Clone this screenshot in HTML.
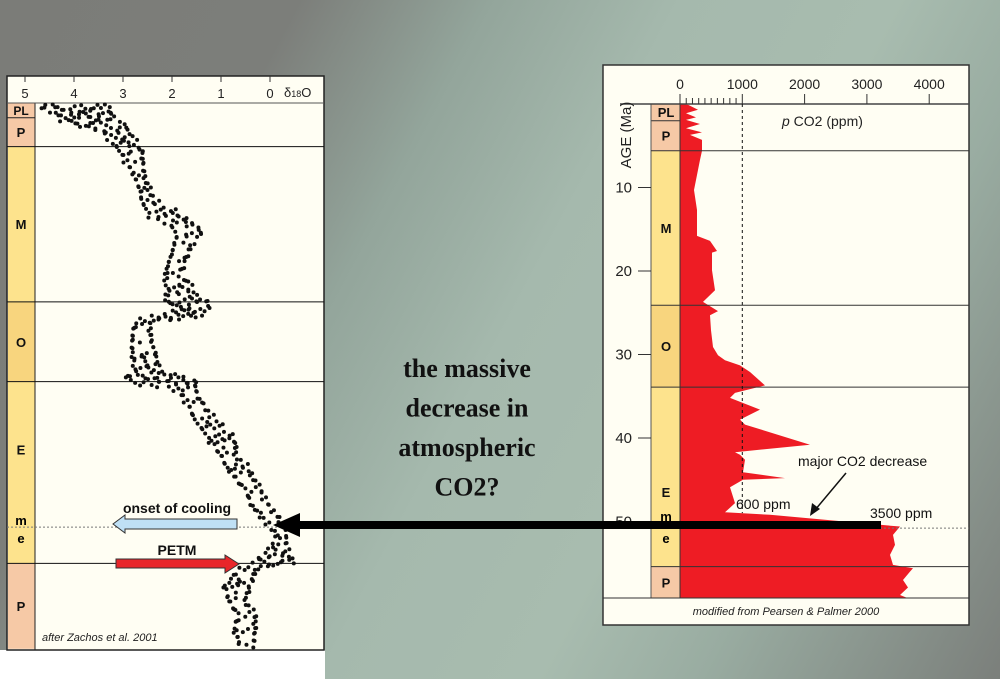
<!DOCTYPE html>
<html><head><meta charset="utf-8">
<style>
html,body{margin:0;padding:0;}
body{width:1000px;height:679px;overflow:hidden;background:linear-gradient(118deg,#7b7c78 0%,#7c7e7a 22%,#93a59b 36%,#a5b9ad 50%,#a8bcaf 66%,#99aca1 78%,#7b7f7b 100%);font-family:"Liberation Sans",sans-serif;}
svg{position:absolute;left:0;top:0;}
</style></head>
<body>
<svg width="1000" height="679" viewBox="0 0 1000 679">
<g id="left"></g>
<g id="right"></g>
<g id="mid"></g>
</svg>
<script>
// ---- d18O data (age Ma, min and max d18O per level) ----
const o18Age = [0.5,1.5,2.7,3.9,5.1,6.9,8.8,10.6,11.8,13.6,14.8,16.1,17.3,19.1,20.9,22.7,24.0,25.2,26.2,27.0,28.8,30.7,32.5,33.7,34.7,36.1,38.6,41.0,42.8,44.6,47.1,49.5,51.3,52.6,53.8,55.0,55.8,56.8,58.6,60.5,62.3,64.1,65.9];
const o18Min = [3.27,3.27,2.96,2.86,2.65,2.59,2.55,2.45,2.35,1.84,1.43,1.43,1.63,1.73,1.84,1.53,1.33,1.22,1.63,2.45,2.45,2.35,2.24,1.53,1.53,1.43,1.12,0.71,0.71,0.41,0.20,0.00,-0.31,-0.31,-0.31,-0.41,-0.51,0.31,0.41,0.51,0.31,0.31,0.31];
const o18Max = [4.69,4.39,3.98,3.37,3.16,2.96,2.80,2.65,2.65,2.45,2.04,1.88,1.94,2.04,2.14,2.08,2.14,1.94,2.65,2.76,2.80,2.80,2.76,2.96,1.94,1.73,1.53,1.22,1.02,0.86,0.51,0.31,0.00,-0.16,-0.04,0.20,0.24,0.61,0.92,0.86,0.65,0.71,0.65];
const o18Ticks = [5,4,3,2,1,0];
// ---- CO2 data (age Ma, pCO2 ppm) ----
const co2Age = [0.1,0.7,1.1,1.6,1.9,2.4,2.9,3.4,3.7,4.3,5.6,6.7,9.1,10.3,12.7,15.8,16.4,17.6,17.8,19.9,22.3,23.7,24.8,25.3,27.1,29.1,30.1,30.7,31.3,32.1,33.7,34.6,35.2,36.6,37.8,38.4,40.8,41.7,42.0,42.6,44.1,44.8,45.0,45.9,47.8,48.9,49.2,50.4,50.6,51.6,52.8,54.0,55.2,55.6,56.0,57.0,57.9,58.8,59.2];
const co2Ppm = [128,289,96,257,96,321,96,353,161,353,353,321,257,225,273,273,482,594,514,514,562,369,610,482,498,530,610,722,963,1124,1364,883,803,1284,963,1043,2087,883,963,1043,1011,1685,1011,803,883,722,1445,3210,3531,3419,3451,3371,3419,3740,3692,3579,3660,3531,3660];
const co2Ticks = [0,1000,2000,3000,4000];
const ageTicks = [10,20,30,40,50];

const NS='http://www.w3.org/2000/svg';
function mk(parent,tag,attrs,text){const e=document.createElementNS(NS,tag);for(const k in attrs)e.setAttribute(k,attrs[k]);if(text!==undefined)e.textContent=text;parent.appendChild(e);return e;}

// ===== LEFT PANEL =====
const L=document.getElementById('left');
const lx=d=>270-d*49, ly=a=>103+a*8.22;
mk(L,'rect',{x:0,y:650,width:325,height:29,fill:'#ffffff'});
let r=mk(L,'rect',{x:7,y:76,width:317,height:574,fill:'#fffef3',stroke:'#222','stroke-width':1.5});

const lStrat=[[0,1.8,'#f6c9a6','PL'],[1.8,5.3,'#f6c9a6','P'],[5.3,24.2,'#fde38d','M'],[24.2,33.9,'#f8d57e','O'],[33.9,56.0,'#fde38d','E'],[56.0,66.4,'#f6c9a6','P']];
lStrat.forEach(s=>{const y0=ly(s[0]),y1=ly(s[1]);
 const b=mk(L,'rect',{x:8,y:y0,width:27,height:y1-y0,fill:s[2]});
 
 mk(L,'text',{x:21,y:s[3]=='PL'?y0+12:(y0+y1)/2+(s[3]=='E'?-18:5),'text-anchor':'middle','font-size':s[3]=='PL'?12:13,'font-weight':'bold',fill:'#111'},s[3]);
});
mk(L,'text',{x:21,y:525,'text-anchor':'middle','font-size':13,'font-weight':'bold'},'m');
mk(L,'text',{x:21,y:543,'text-anchor':'middle','font-size':13,'font-weight':'bold'},'e');
mk(L,'line',{x1:35,y1:103,x2:35,y2:650,stroke:'#222'});
mk(L,'line',{x1:7,y1:103,x2:324,y2:103,stroke:'#555'});
mk(L,'line',{x1:7,y1:ly(1.8),x2:35,y2:ly(1.8),stroke:'#222'});
[5.3,24.2,33.9,56.0].forEach(a=>mk(L,'line',{x1:7,y1:ly(a),x2:324,y2:ly(a),stroke:'#111'}));
mk(L,'line',{x1:7,y1:ly(51.6),x2:324,y2:ly(51.6),stroke:'#777','stroke-dasharray':'2,2'});
o18Ticks.forEach(t=>{mk(L,'line',{x1:lx(t),y1:76,x2:lx(t),y2:82,stroke:'#333'});
 const e=mk(L,'text',{x:lx(t),y:98,'text-anchor':'middle','font-size':13,fill:'#222'},String(t));
 });
let tt=mk(L,'text',{x:284,y:97,'font-size':13,fill:'#222'});tt.innerHTML='δ<tspan font-size="9">18</tspan>O';

const dots=mk(L,'g',{fill:'#111'});
const jy=[0,2.2,-1.8,1.1,-2.6,2.8,-0.9,1.7,-2.2];
const jx=[0,0.9,-0.7,1.4,-1.2,0.4,-0.3,1.1,-1.5];
let cnt=0;
function dotRow(a,lo,hi,n){for(let k=0;k<n;k++){const f=n==1?0.5:k/(n-1);const d=lo+(hi-lo)*f;
 const c=mk(dots,'circle',{cx:lx(d)+jx[cnt%9],cy:ly(a)+jy[(cnt*4)%9],r:2});cnt++;
 }}
for(let i=0;i<o18Age.length;i++){
 const w=Math.abs(o18Max[i]-o18Min[i]);const n=Math.max(3,Math.round(w*9));
 dotRow(o18Age[i],o18Min[i],o18Max[i],n);
 if(i<o18Age.length-1){
  const steps=Math.max(1,Math.round((o18Age[i+1]-o18Age[i])*2.6));
  for(let s=1;s<steps;s++){const f=s/steps;
   const a=o18Age[i]+(o18Age[i+1]-o18Age[i])*f;
   const lo=o18Min[i]+(o18Min[i+1]-o18Min[i])*f, hi=o18Max[i]+(o18Max[i+1]-o18Max[i])*f;
   dotRow(a,lo,hi,Math.max(2,Math.round(Math.abs(hi-lo)*6)));}
 }
}
// arrows
let a1=mk(L,'polygon',{points:'237,519 125,519 125,515 113,524 125,533 125,529 237,529',fill:'#bfe0f5',stroke:'#333','stroke-width':1});

mk(L,'text',{x:177,y:513,'text-anchor':'middle','font-size':14,'font-weight':'bold',fill:'#111'},'onset of cooling');
let a2=mk(L,'polygon',{points:'116,559 225,559 225,555 239,564 225,573 225,568 116,568',fill:'#e8262a',stroke:'#333','stroke-width':1});

mk(L,'text',{x:177,y:555,'text-anchor':'middle','font-size':14,'font-weight':'bold',fill:'#111'},'PETM');
mk(L,'text',{x:42,y:641,'font-size':11,'font-style':'italic',fill:'#222'},'after Zachos et al. 2001');

// ===== RIGHT PANEL =====
const R=document.getElementById('right');
const rx=p=>680+p*0.0623, ry=a=>104+a*8.35;
let rf=mk(R,'rect',{x:603,y:65,width:366,height:560,fill:'#fffef3',stroke:'#333','stroke-width':1.5});

const rStrat=[[0,2.0,'#f6c9a6','PL'],[2.0,5.6,'#f6c9a6','P'],[5.6,24.1,'#fde38d','M'],[24.1,33.9,'#f8d57e','O'],[33.9,55.4,'#fde38d','E'],[55.4,59.2,'#f6c9a6','P']];
rStrat.forEach(s=>{const y0=ry(s[0]),y1=ry(s[1]);
 const b=mk(R,'rect',{x:651,y:y0,width:29,height:y1-y0,fill:s[2]});
 
 mk(R,'text',{x:666,y:s[3]=='PL'?y0+13:(y0+y1)/2+(s[3]=='E'?20:5),'text-anchor':'middle','font-size':13,'font-weight':'bold',fill:'#111'},s[3]);});
mk(R,'text',{x:666,y:521,'text-anchor':'middle','font-size':13,'font-weight':'bold'},'m');
mk(R,'text',{x:666,y:543,'text-anchor':'middle','font-size':13,'font-weight':'bold'},'e');
mk(R,'line',{x1:651,y1:ry(2.0),x2:680,y2:ry(2.0),stroke:'#333'});
mk(R,'line',{x1:651,y1:104,x2:651,y2:598,stroke:'#555'});
let pts=[[rx(0),ry(0)]];
for(let i=0;i<co2Age.length;i++)pts.push([rx(co2Ppm[i]),ry(co2Age[i])]);
pts.push([rx(0),ry(co2Age[co2Age.length-1])]);
let area=mk(R,'polygon',{points:pts.map(p=>p[0].toFixed(1)+','+p[1].toFixed(1)).join(' '),fill:'#ee1c24'});

mk(R,'line',{x1:680,y1:104,x2:680,y2:598,stroke:'#333'});
[5.6,24.1,33.9,55.4].forEach(a=>mk(R,'line',{x1:651,y1:ry(a),x2:969,y2:ry(a),stroke:'#333'}));
mk(R,'line',{x1:680,y1:ry(50.8),x2:969,y2:ry(50.8),stroke:'#777','stroke-dasharray':'2,2'});
mk(R,'line',{x1:603,y1:598,x2:969,y2:598,stroke:'#333'});
mk(R,'line',{x1:620,y1:104,x2:969,y2:104,stroke:'#444','stroke-width':1.5});
mk(R,'line',{x1:rx(1000),y1:104,x2:rx(1000),y2:ry(49),stroke:'#111','stroke-dasharray':'3,3'});
co2Ticks.forEach(t=>{mk(R,'line',{x1:rx(t),y1:94,x2:rx(t),y2:104,stroke:'#333'});
 const e=mk(R,'text',{x:rx(t),y:89,'text-anchor':'middle','font-size':14,fill:'#222'},String(t));
 });
for(let m=100;m<1000;m+=100)mk(R,'line',{x1:rx(m),y1:98,x2:rx(m),y2:104,stroke:'#333'});
ageTicks.forEach(t=>{mk(R,'line',{x1:638,y1:ry(t),x2:651,y2:ry(t),stroke:'#333'});
 const e=mk(R,'text',{x:632,y:ry(t)+5,'text-anchor':'end','font-size':15,fill:'#222'},String(t));
 });
let yt=mk(R,'text',{x:0,y:0,transform:'translate(631,135) rotate(-90)','text-anchor':'middle','font-size':15,fill:'#222'},'AGE (Ma)');

let xt=mk(R,'text',{x:782,y:126,'font-size':14,fill:'#222'});xt.innerHTML='<tspan font-style="italic">p</tspan> CO2 (ppm)';

mk(R,'text',{x:798,y:466,'font-size':14,fill:'#111'},'major CO2 decrease');
mk(R,'line',{x1:846,y1:473,x2:815,y2:510,stroke:'#111','stroke-width':1.5});
mk(R,'polygon',{points:'810,516 812,503 820,509',fill:'#111'});
mk(R,'text',{x:736,y:509,'font-size':14,fill:'#111'},'600 ppm');
mk(R,'text',{x:870,y:518,'font-size':14,fill:'#111'},'3500 ppm');
mk(R,'text',{x:786,y:615,'text-anchor':'middle','font-size':11,'font-style':'italic',fill:'#222'},'modified from Pearsen & Palmer 2000');

// ===== CENTER =====
const M=document.getElementById('mid');
let big=mk(M,'polygon',{points:'881,521 300,521 300,513 273,525 300,537 300,529 881,529',fill:'#000'});

const q=['the massive','decrease in','atmospheric','CO2?'];
q.forEach((s,i)=>{const e=mk(M,'text',{x:467,y:377+i*39.5,'text-anchor':'middle','font-size':26,'font-weight':'bold','font-family':'"Liberation Serif",serif',fill:'#111'},s);
 });
</script>
</body></html>
